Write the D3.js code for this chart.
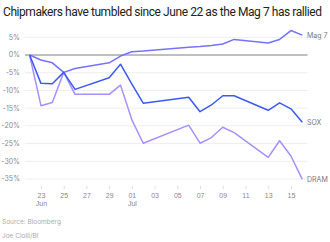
<!DOCTYPE html>
<html>
<head>
<meta charset="utf-8">
<script src="https://cdn.jsdelivr.net/npm/d3@7"></script>
<style>
  body { margin: 0; background: #fff; }
  svg { display: block; font-family: Inter, "Noto Sans", sans-serif; }
</style>
</head>
<body>
<svg id="chart" width="330" height="242"></svg>
<script>
// data: % change since June 22
const dates = ["2020-06-22", "2020-06-23", "2020-06-24", "2020-06-25", "2020-06-26",
    "2020-06-29", "2020-06-30", "2020-07-01", "2020-07-02", "2020-07-06",
    "2020-07-07", "2020-07-08", "2020-07-09", "2020-07-10", "2020-07-13",
    "2020-07-14", "2020-07-15", "2020-07-16"];
const mag7 = [0, -1.4, -2.2, -4.9, -3.8, -2.2, -0.3, 0.9, 1.1, 2.2, 2.4, 2.7, 3.1, 4.4, 3.4, 4.4, 6.9, 5.6];
const sox = [0, -8.0, -8.1, -4.9, -9.7, -6.4, -2.6, -8.2, -13.6, -11.9, -16.0, -14.1, -11.5, -11.5, -15.6, -13.5, -15.2, -19.0];
const dram = [0, -14.3, -13.4, -4.9, -11.1, -11.1, -8.5, -18.3, -24.9, -19.8, -24.9, -23.3, -20.4, -21.9, -28.9, -24.2, -28.5, -35.1];
const yTicks = [5, 0, -5, -10, -15, -20, -25, -30, -35];
const xTickDays = ["2020-06-23", "2020-06-25", "2020-06-27", "2020-06-29", "2020-07-01",
    "2020-07-03", "2020-07-05", "2020-07-07", "2020-07-09", "2020-07-11",
    "2020-07-13", "2020-07-15"];

const parse = d3.timeParse("%Y-%m-%d");
const xDates = dates.map(parse);

const svg = d3.select('#chart');

const x = d3.scaleTime()
    .domain([xDates[0], xDates[xDates.length - 1]])
    .range([29.6, 302.3]);

const y = d3.scaleLinear()
    .domain([-35, 5])
    .range([179, 37.3]);

const gridLeft = 25, gridRight = 307.5;

// title
svg.append('text')
    .attr('x', 3)
    .attr('y', 16)
    .attr('font-family', 'Roboto, sans-serif')
    .attr('font-size', 12)
    .attr('letter-spacing', -0.43)
    .attr('fill', '#222')
    .text('Chipmakers have tumbled since June 22 as the Mag 7 has rallied');

// gridlines + y labels
const yAxis = svg.append('g');
yAxis.selectAll('line')
    .data(yTicks)
    .enter()
    .append('line')
    .attr('x1', gridLeft)
    .attr('x2', gridRight)
    .attr('y1', d => y(d))
    .attr('y2', d => y(d))
    .attr('stroke', d => d === 0 ? '#aaa' : '#eeeeee')
    .attr('stroke-width', d => d === 0 ? 1.4 : 1);

yAxis.selectAll('text')
    .data(yTicks)
    .enter()
    .append('text')
    .attr('x', 20)
    .attr('y', d => y(d))
    .attr('dy', '0.35em')
    .attr('text-anchor', 'end')
    .attr('font-size', 7)
    .attr('fill', '#888')
    .text(d => d + '%');

// x axis
const xAxis = svg.append('g')
    .attr('transform', 'translate(0,186)')
    .call(d3.axisBottom(x)
        .tickValues(xTickDays.map(parse))
        .tickSize(3)
        .tickFormat(d3.timeFormat('%d')));
xAxis.select('.domain').remove();
xAxis.selectAll('line').attr('stroke', '#ddd');
xAxis.selectAll('text')
    .attr('font-size', 7)
    .attr('fill', '#888')
    .attr('font-family', null)
    .attr('y', 7);
xAxis.selectAll('.tick')
    .filter(d => d.getDate() === 1 || +d === +parse(xTickDays[0]))
    .append('text')
    .attr('y', 15)
    .attr('dy', '0.71em')
    .attr('font-size', 7)
    .attr('fill', '#888')
    .attr('text-anchor', 'middle')
    .text(d => d3.timeFormat('%b')(d));

// lines
const series = [
    { name: 'Mag 7', values: mag7, color: '#7472ff' },
    { name: 'SOX', values: sox, color: '#3c59f6' },
    { name: 'DRAM', values: dram, color: '#a690ff' }
];

const line = d3.line()
    .x((d, i) => x(xDates[i]))
    .y(d => y(d));

svg.selectAll('.series')
    .data([series[2], series[0], series[1]])
    .enter()
    .append('path')
    .attr('class', 'series')
    .attr('d', d => line(d.values))
    .attr('fill', 'none')
    .attr('stroke', d => d.color)
    .attr('stroke-width', 1.5)
    .attr('stroke-linejoin', 'round');

svg.selectAll('.label')
    .data(series)
    .enter()
    .append('text')
    .attr('class', 'label')
    .attr('x', 307)
    .attr('y', d => y(d.values[d.values.length - 1]))
    .attr('dy', '0.35em')
    .attr('font-size', 7)
    .attr('fill', '#777')
    .text(d => d.name);

// footer
svg.append('text')
    .attr('x', 2)
    .attr('y', 224)
    .attr('font-size', 6.5)
    .attr('fill', '#aaa')
    .text('Source: Bloomberg');
svg.append('text')
    .attr('x', 2)
    .attr('y', 238)
    .attr('font-size', 6.5)
    .attr('fill', '#aaa')
    .text('Joe Ciolli/BI');
</script>
</body>
</html>
